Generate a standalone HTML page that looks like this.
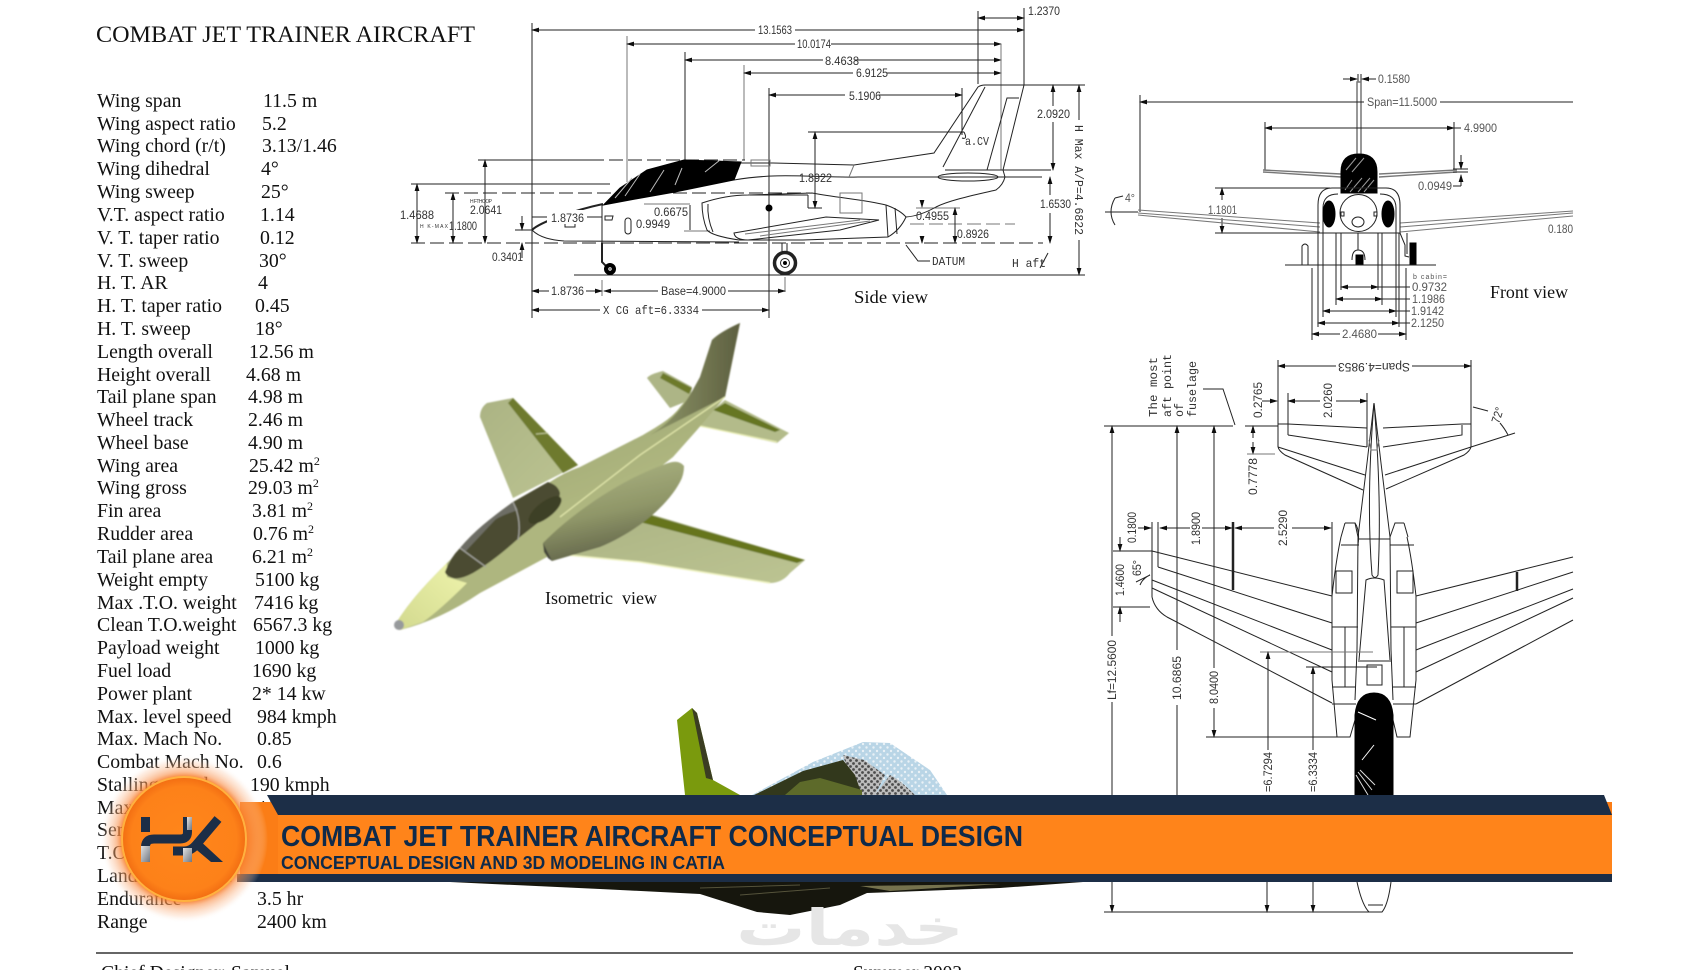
<!DOCTYPE html>
<html><head><meta charset="utf-8"><title>Combat Jet Trainer Aircraft</title>
<style>
html,body{margin:0;padding:0;background:#fff;width:1700px;height:970px;overflow:hidden}
svg{display:block}
.t{font-family:"Liberation Serif",serif;font-size:19.8px;fill:#111;white-space:pre}
.d{font-family:"Liberation Sans",sans-serif;font-size:12px;fill:#333;white-space:pre}
.m{font-family:"Liberation Mono",monospace;font-size:12px;fill:#333;white-space:pre}
.l line,.l path,.l polyline,.l circle,.l ellipse,.l rect{stroke:#222;stroke-width:1;fill:none}
.l .g{stroke:#777}
.l .k{fill:#000;stroke:#000}
.l .w{stroke-width:2}
.l .dash{stroke-dasharray:14 5}
.l .ar{marker-start:url(#a);marker-end:url(#a)}
.l .ae{marker-end:url(#a)}
</style></head><body>
<svg width="1700" height="970" viewBox="0 0 1700 970" xmlns="http://www.w3.org/2000/svg" xml:space="preserve">
<defs>
<marker id="a" markerWidth="8" markerHeight="6" refX="7" refY="3" orient="auto-start-reverse" markerUnits="userSpaceOnUse"><path d="M0 0.6L8 3L0 5.4z" fill="#111"/></marker>
<filter id="b" x="-5%" y="-5%" width="110%" height="110%"><feGaussianBlur stdDeviation="0.35"/></filter>
<filter id="b2" x="-5%" y="-5%" width="110%" height="110%"><feGaussianBlur stdDeviation="0.7"/></filter>
<linearGradient id="wing" x1="0" y1="0" x2="1" y2="1"><stop offset="0" stop-color="#abb383"/><stop offset="1" stop-color="#bcc492"/></linearGradient>
<linearGradient id="fus" x1="0.35" y1="0" x2="0.6" y2="0.55"><stop offset="0" stop-color="#7f865a"/><stop offset="0.5" stop-color="#9fa874"/><stop offset="1" stop-color="#aeb67f"/></linearGradient>
<linearGradient id="nac" x1="0.35" y1="0" x2="0.62" y2="0.9"><stop offset="0" stop-color="#acb482"/><stop offset="0.55" stop-color="#8f9668"/><stop offset="1" stop-color="#62654a"/></linearGradient>
<linearGradient id="finG" x1="0" y1="0" x2="1" y2="0"><stop offset="0" stop-color="#8f9769"/><stop offset="1" stop-color="#5d5f40"/></linearGradient>
<linearGradient id="nose" x1="0" y1="1" x2="1" y2="0"><stop offset="0" stop-color="#d2d98e"/><stop offset="1" stop-color="#eef3ac"/></linearGradient>
<pattern id="dots" width="7" height="7" patternUnits="userSpaceOnUse"><rect width="7" height="7" fill="#b9d5e6"/><circle cx="2" cy="2" r="1.2" fill="#e9f1f6"/><circle cx="5.5" cy="5.5" r="1.2" fill="#e9f1f6"/></pattern>
<pattern id="dith" width="6" height="6" patternUnits="userSpaceOnUse"><rect width="6" height="6" fill="#bdbdbd"/><circle cx="1.5" cy="1.5" r="1.4" fill="#4c4c4c"/><circle cx="4.5" cy="4.5" r="1.4" fill="#4c4c4c"/></pattern>
<radialGradient id="glow"><stop offset="0" stop-color="#f97a14"/><stop offset="0.72" stop-color="#f8741a"/><stop offset="0.8" stop-color="#f9934f" stop-opacity="0.6"/><stop offset="0.92" stop-color="#fbc6a2" stop-opacity="0.3"/><stop offset="1" stop-color="#fff" stop-opacity="0"/></radialGradient>
<radialGradient id="disc"><stop offset="0" stop-color="#ff861b"/><stop offset="0.85" stop-color="#fd8119"/><stop offset="1" stop-color="#f26d12"/></radialGradient>
<linearGradient id="gr" x1="0" y1="0" x2="1" y2="1"><stop offset="0" stop-color="#e2e2e2"/><stop offset="1" stop-color="#6f7782"/></linearGradient>
</defs>

<!-- spec list -->
<g class="t">
<text x="96" y="42" style="font-size:23px" textLength="379" lengthAdjust="spacingAndGlyphs">COMBAT JET TRAINER AIRCRAFT</text>
<text x="97" y="107">Wing span</text><text x="263" y="107">11.5 m</text>
<text x="97" y="130">Wing aspect  ratio</text><text x="262" y="130">5.2</text>
<text x="97" y="152">Wing chord (r/t)</text><text x="262" y="152">3.13/1.46</text>
<text x="97" y="175">Wing dihedral</text><text x="261" y="175">4°</text>
<text x="97" y="198">Wing sweep</text><text x="261" y="198">25°</text>
<text x="97" y="221">V.T.  aspect ratio</text><text x="260" y="221">1.14</text>
<text x="97" y="244">V. T. taper ratio</text><text x="260" y="244">0.12</text>
<text x="97" y="267">V. T. sweep</text><text x="259" y="267">30°</text>
<text x="97" y="289">H. T. AR</text><text x="258" y="289">4</text>
<text x="97" y="312">H. T. taper ratio</text><text x="255" y="312">0.45</text>
<text x="97" y="335">H. T. sweep</text><text x="255" y="335">18°</text>
<text x="97" y="358">Length overall</text><text x="249" y="358">12.56 m</text>
<text x="97" y="381">Height overall</text><text x="246" y="381">4.68 m</text>
<text x="97" y="403">Tail plane span</text><text x="248" y="403">4.98 m</text>
<text x="97" y="426">Wheel track</text><text x="248" y="426">2.46 m</text>
<text x="97" y="449">Wheel base</text><text x="248" y="449">4.90 m</text>
<text x="97" y="472">Wing area</text><text x="249" y="472">25.42 m<tspan font-size="12" dy="-7">2</tspan></text>
<text x="97" y="494">Wing gross</text><text x="248" y="494">29.03 m<tspan font-size="12" dy="-7">2</tspan></text>
<text x="97" y="517">Fin area</text><text x="252" y="517">3.81 m<tspan font-size="12" dy="-7">2</tspan></text>
<text x="97" y="540">Rudder area</text><text x="253" y="540">0.76 m<tspan font-size="12" dy="-7">2</tspan></text>
<text x="97" y="563">Tail plane area</text><text x="252" y="563">6.21 m<tspan font-size="12" dy="-7">2</tspan></text>
<text x="97" y="586">Weight empty</text><text x="255" y="586">5100 kg</text>
<text x="97" y="609">Max .T.O. weight</text><text x="254" y="609">7416 kg</text>
<text x="97" y="631">Clean T.O.weight</text><text x="253" y="631">6567.3 kg</text>
<text x="97" y="654">Payload weight</text><text x="255" y="654">1000 kg</text>
<text x="97" y="677">Fuel load</text><text x="252" y="677">1690 kg</text>
<text x="97" y="700">Power plant</text><text x="252" y="700">2* 14 kw</text>
<text x="97" y="723">Max. level speed</text><text x="257" y="723">984 kmph</text>
<text x="97" y="745">Max. Mach No.</text><text x="257" y="745">0.85</text>
<text x="97" y="768">Combat Mach No.</text><text x="257" y="768">0.6</text>
<text x="97" y="791">Stalling speed</text><text x="250" y="791">190  kmph</text>
<text x="97" y="814">Max. climb rate</text><text x="258" y="814">18 m/s</text>
<text x="97" y="836">Service ceiling</text>
<text x="97" y="859">T.O. distance</text>
<text x="97" y="882">Landing distance</text><text x="257" y="882">700 m</text>
<text x="97" y="905">Endurance</text><text x="257" y="905">3.5 hr</text>
<text x="97" y="928">Range</text><text x="257" y="928">2400 km</text>
</g>
<line x1="96" y1="953" x2="1573" y2="953" stroke="#333" stroke-width="1.6"/>
<text class="t" x="101" y="979" textLength="189" lengthAdjust="spacingAndGlyphs">Chief Designer: Samuel</text>
<text class="t" x="853" y="979" textLength="109" lengthAdjust="spacingAndGlyphs">Summer 2002</text>

<!-- side view -->
<g class="l" filter="url(#b)">
<line x1="532" y1="23" x2="532" y2="318"/>
<line x1="532" y1="30" x2="1024" y2="30" class="ar"/>
<line x1="978" y1="11" x2="978" y2="84"/><line x1="1024" y1="8" x2="1024" y2="85"/>
<line x1="978" y1="18" x2="1024" y2="18" class="ar"/>
<line x1="627" y1="36" x2="627" y2="182" class="g"/><line x1="627" y1="44" x2="1001" y2="44" class="ar"/>
<line x1="685" y1="52" x2="685" y2="160"/><line x1="685" y1="60" x2="1001" y2="60" class="ar"/>
<line x1="744" y1="65" x2="744" y2="160" class="g"/><line x1="744" y1="73" x2="1001" y2="73" class="ar"/>
<line x1="769" y1="88" x2="769" y2="318"/><line x1="769" y1="95" x2="962" y2="95" class="ar"/>
<line x1="962" y1="88" x2="962" y2="135"/><line x1="1001" y1="44" x2="1001" y2="170" class="g"/>
<line x1="808" y1="132" x2="964" y2="132"/>
<line x1="815" y1="132" x2="815" y2="208" class="ar"/>
<line x1="1006" y1="85" x2="1085" y2="85"/>
<line x1="1053" y1="85" x2="1053" y2="170" class="ar"/>
<line x1="1079" y1="85" x2="1079" y2="120" style="marker-start:url(#a)"/><line x1="1079" y1="240" x2="1079" y2="275" class="ae"/>
<line x1="1050" y1="177" x2="1050" y2="243" class="ar"/>
<line x1="478" y1="160" x2="590" y2="160"/><line x1="590" y1="160" x2="745" y2="160" class="dash"/>
<line x1="411" y1="184" x2="610" y2="184"/>
<line x1="445" y1="193" x2="810" y2="193" class="dash"/>
<line x1="411" y1="243" x2="1043" y2="243" class="dash"/>
<line x1="574" y1="275" x2="1085" y2="275"/>
<line x1="417" y1="184" x2="417" y2="243" class="ar"/>
<line x1="453" y1="193" x2="453" y2="243" class="ar"/>
<line x1="485" y1="160" x2="485" y2="243" class="ar"/>
<line x1="522" y1="216" x2="522" y2="230" class="ae"/><line x1="515" y1="230" x2="532" y2="230"/>
<line x1="522" y1="258" x2="522" y2="243" class="ae"/>
<line x1="532" y1="217" x2="548" y2="217"/><line x1="586" y1="217" x2="602" y2="217"/>
<line x1="602" y1="205" x2="602" y2="243"/>
<line x1="690" y1="205" x2="690" y2="230"/><line x1="644" y1="204" x2="690" y2="204" class="g"/><line x1="684" y1="231" x2="710" y2="231" class="g"/>
<line x1="916" y1="208" x2="960" y2="208" class="g"/><line x1="922" y1="200" x2="922" y2="207" class="ae"/><line x1="922" y1="238" x2="922" y2="243" class="ae"/>
<line x1="910" y1="224" x2="1015" y2="224" class="dash g"/>
<line x1="955" y1="208" x2="955" y2="243" class="ar"/>
<!-- fuselage -->
<path d="M532 230C540 222 575 210 603 204" class="w"/>
<path d="M741 163L773 163L854 165L934 153L978 87Q981 85 985 85L1024 85L1003 170L1005 177Q1003 185 996 190C975 195 950 200 936 207Q920 216 906 217"/>
<path d="M734 180C780 172 815 178 858 177L1042 177"/>
<path d="M945 170L1051 170"/>
<path d="M854 165L849 177" class="g"/>
<path d="M532 230C540 238 552 240 564 241L739 242"/>
<path class="k" d="M603.5 205L620 188L647 170L684 160L741 162L734 180L675 192L630 200Z"/>
<path d="M615 198L632 178M625 196L640 174M650 192L664 170M675 185L682 168M705 172L720 160" style="stroke:#bbb"/>
<path d="M702 203C720 197 735 195 748 195L812 193C840 198 865 200 886 205Q900 210 906 217Q900 230 888 237L803 240L739 240Q712 236 707 230C703 220 702 212 702 203Z"/>
<path d="M708 204Q707 218 713 232"/><path d="M886 205L888 237"/><path d="M895 208L897 234"/>
<path d="M734 233L826 217L879 220L840 230L748 240Q735 240 734 233Z"/><path d="M745 234L860 220M760 236L870 221" class="g"/>
<rect x="840" y="193" width="22" height="20" class="g"/><line x1="750" y1="195" x2="808" y2="195"/><line x1="808" y1="195" x2="808" y2="208"/><line x1="808" y1="208" x2="822" y2="208"/>
<path d="M985 87L943 167"/><path d="M1019 98L1007 98L987 170L1003 170"/>
<ellipse cx="968" cy="177" rx="30" ry="4"/>
<rect x="565" y="221" width="10" height="6"/><rect x="625" y="218" width="6" height="16" rx="3"/><path d="M605 216h8l-1 4h-7z"/>
<rect x="751" y="160" width="19" height="6" class="g"/>
<circle cx="769" cy="208" r="3" class="k"/>
<!-- gear -->
<path d="M602 243V262L608 268" class="w"/><circle cx="610" cy="269" r="5.5" class="k"/><circle cx="610" cy="269" r="1.2" style="stroke:#fff"/>
<path d="M782 243V252M787 243V252" /><circle cx="785" cy="263" r="10.5" style="stroke-width:3.5"/><circle cx="785" cy="263" r="4.5"/>
<circle cx="785" cy="263" r="1.5" class="k"/>
<line x1="785" y1="277" x2="785" y2="292" class="g"/>
<line x1="602" y1="280" x2="602" y2="296" class="g"/>
<line x1="532" y1="291" x2="549" y2="291" style="marker-start:url(#a)"/><line x1="586" y1="291" x2="602" y2="291" class="ae"/>
<line x1="604" y1="291" x2="658" y2="291" style="marker-start:url(#a)"/><line x1="728" y1="291" x2="785" y2="291" class="ae"/>
<line x1="532" y1="310" x2="600" y2="310" style="marker-start:url(#a)"/><line x1="702" y1="310" x2="769" y2="310" class="ae"/>
<path d="M906 245L918 261L930 261"/><path d="M1048 253L1040 268"/>
</g>
<g filter="url(#b)">
<rect x="755" y="24" width="40" height="12" fill="#fff"/><rect x="795" y="38" width="36" height="12" fill="#fff"/><rect x="823" y="54" width="32" height="12" fill="#fff"/><rect x="853" y="67" width="34" height="12" fill="#fff"/><rect x="845" y="88" width="34" height="14" fill="#fff"/>
<rect x="1037" y="106" width="34" height="16" fill="#fff"/><rect x="1036" y="195" width="36" height="18" fill="#fff"/><rect x="547" y="210" width="40" height="14" fill="#fff"/>
<g class="d">
<text x="758" y="34" textLength="34" lengthAdjust="spacingAndGlyphs">13.1563</text>
<text x="797" y="48" textLength="34" lengthAdjust="spacingAndGlyphs">10.0174</text>
<text x="825" y="65" textLength="34" lengthAdjust="spacingAndGlyphs">8.4638</text>
<text x="856" y="77" textLength="32" lengthAdjust="spacingAndGlyphs">6.9125</text>
<text x="849" y="100" textLength="32" lengthAdjust="spacingAndGlyphs">5.1906</text>
<text x="1028" y="15" textLength="32" lengthAdjust="spacingAndGlyphs">1.2370</text>
<text x="1037" y="118" textLength="33" lengthAdjust="spacingAndGlyphs">2.0920</text>
<text x="1040" y="208" textLength="31" lengthAdjust="spacingAndGlyphs">1.6530</text>
<text x="400" y="219" textLength="34" lengthAdjust="spacingAndGlyphs">1.4688</text>
<text x="470" y="214" textLength="32" lengthAdjust="spacingAndGlyphs">2.0641</text>
<text x="470" y="203" style="font-size:5px" textLength="22">H FTHOOP</text>
<text x="420" y="228" style="font-size:5px" textLength="28">H K-MAX</text>
<text x="449" y="230" textLength="28" lengthAdjust="spacingAndGlyphs">1.1800</text>
<text x="492" y="261" textLength="31" lengthAdjust="spacingAndGlyphs">0.3401</text>
<text x="551" y="222" textLength="33" lengthAdjust="spacingAndGlyphs">1.8736</text>
<text x="654" y="216" textLength="34" lengthAdjust="spacingAndGlyphs">0.6675</text>
<text x="636" y="228" textLength="34" lengthAdjust="spacingAndGlyphs">0.9949</text>
<text x="799" y="182" textLength="33" lengthAdjust="spacingAndGlyphs">1.8922</text>
<text x="916" y="220" textLength="33" lengthAdjust="spacingAndGlyphs">0.4955</text>
<text x="957" y="238" textLength="32" lengthAdjust="spacingAndGlyphs">0.8926</text>
<text x="551" y="295" textLength="33" lengthAdjust="spacingAndGlyphs">1.8736</text>
<text x="661" y="295" textLength="65" lengthAdjust="spacingAndGlyphs">Base=4.9000</text>
</g>
<g class="m">
<text x="603" y="314" textLength="96" lengthAdjust="spacingAndGlyphs">X CG aft=6.3334</text>
<text x="932" y="265" textLength="33" lengthAdjust="spacingAndGlyphs">DATUM</text>
<text x="1012" y="267" textLength="34" lengthAdjust="spacingAndGlyphs">H aft</text>
<text x="965" y="145" textLength="24" lengthAdjust="spacingAndGlyphs">a.CV</text>
<text transform="translate(1075 125) rotate(90)" textLength="110" lengthAdjust="spacingAndGlyphs">H Max A/P=4.6822</text>
</g>
<text class="t" x="854" y="303" style="font-size:18px" textLength="74" lengthAdjust="spacingAndGlyphs">Side view</text>
</g>
<path d="M964 132Q968 140 962 138" stroke="#222" fill="none"/>

<!-- front view -->
<g class="l" filter="url(#b)">
<line x1="1343" y1="79" x2="1357" y2="79" class="ae"/><line x1="1376" y1="79" x2="1362" y2="79" class="ae"/>
<line x1="1358" y1="74" x2="1358" y2="82"/><line x1="1361" y1="74" x2="1361" y2="82"/>
<path d="M1357 154V82H1361V154" class="g" style="stroke-width:1.5"/>
<line x1="1140" y1="95" x2="1140" y2="212"/><line x1="1140" y1="102" x2="1364" y2="102" style="marker-start:url(#a)"/><line x1="1440" y1="102" x2="1573" y2="102"/>
<line x1="1265" y1="122" x2="1265" y2="170"/><line x1="1454" y1="122" x2="1454" y2="170"/>
<line x1="1265" y1="128" x2="1454" y2="128" class="ar"/><line x1="1454" y1="128" x2="1461" y2="128"/>
<path d="M1263 170L1341 174M1263 172L1341 177M1379 174L1457 170M1379 177L1457 172" class="g" style="stroke-width:1.4"/>
<path class="k" d="M1341 193V172Q1341 154 1359 154Q1377 154 1377 172V193Z"/>
<path d="M1346 170L1356 158M1352 172L1364 158M1345 190L1352 180M1350 192L1362 178M1358 192L1370 178M1364 192L1374 180" style="stroke:#999"/>
<line x1="1461" y1="155" x2="1461" y2="169" class="ae"/><line x1="1461" y1="186" x2="1461" y2="175" class="ae"/><line x1="1453" y1="169" x2="1468" y2="169"/><line x1="1453" y1="172" x2="1468" y2="172"/><line x1="1453" y1="186" x2="1461" y2="186"/>
<line x1="1215" y1="188" x2="1330" y2="188"/><line x1="1215" y1="233" x2="1320" y2="233"/>
<line x1="1222" y1="188" x2="1222" y2="200" style="marker-start:url(#a)"/><line x1="1222" y1="218" x2="1222" y2="233" class="ae"/>
<path d="M1138 210L1320 223M1138 215L1320 232M1400 223L1573 211M1400 232L1573 216M1138 213L1320 227M1400 227L1573 213" class="g"/>
<line x1="1105" y1="212" x2="1138" y2="212"/>
<path d="M1115 198Q1107 212 1115 225"/><line x1="1115" y1="198" x2="1123" y2="196"/>
<path d="M1318 233V205Q1318 188 1332 188H1386Q1400 188 1400 205V233"/>
<path d="M1323 233V208Q1323 194 1338 194M1396 233V208Q1396 194 1380 194"/>
<ellipse class="k" cx="1329" cy="214" rx="6" ry="13"/><ellipse class="k" cx="1388" cy="214" rx="6" ry="13"/>
<circle cx="1358.500" cy="213" r="18.500"/><ellipse cx="1358" cy="222" rx="6" ry="5"/>
<rect x="1341" y="212" width="3" height="4"/><rect x="1374" y="212" width="3" height="4"/>
<path d="M1320 233H1400"/>
<path d="M1358 233V250M1352 260Q1352 250 1358 250Q1365 250 1365 260"/><rect x="1356" y="255" width="7" height="10" class="k"/>
<rect x="1410" y="243" width="6" height="22" class="k"/><path d="M1400 233L1405 245V256L1409 257M1407 233V254"/>
<path d="M1302 265V246Q1305 242 1308 246V265"/>
<line x1="1285" y1="265" x2="1436" y2="265"/>
<line x1="1341" y1="233" x2="1341" y2="290"/><line x1="1378" y1="233" x2="1378" y2="290"/>
<line x1="1336" y1="233" x2="1336" y2="305"/><line x1="1382" y1="233" x2="1382" y2="305"/>
<line x1="1323" y1="233" x2="1323" y2="317"/><line x1="1396" y1="233" x2="1396" y2="317"/>
<line x1="1318" y1="233" x2="1318" y2="327"/><line x1="1399" y1="233" x2="1399" y2="327"/>
<line x1="1312" y1="268" x2="1312" y2="340"/><line x1="1406" y1="268" x2="1406" y2="340"/>
<line x1="1341" y1="287" x2="1378" y2="287" class="ar"/><line x1="1378" y1="287" x2="1410" y2="287"/>
<line x1="1336" y1="299" x2="1382" y2="299" class="ar"/><line x1="1382" y1="299" x2="1410" y2="299"/>
<line x1="1323" y1="311" x2="1396" y2="311" class="ar"/><line x1="1396" y1="311" x2="1410" y2="311"/>
<line x1="1318" y1="323" x2="1399" y2="323" class="ar"/><line x1="1399" y1="323" x2="1410" y2="323"/>
<line x1="1312" y1="334" x2="1340" y2="334" style="marker-start:url(#a)"/><line x1="1378" y1="334" x2="1406" y2="334" class="ae"/>
</g>
<g class="d" filter="url(#b)" style="fill:#555">
<text x="1378" y="83" textLength="32" lengthAdjust="spacingAndGlyphs">0.1580</text>
<text x="1367" y="106" textLength="70" lengthAdjust="spacingAndGlyphs">Span=11.5000</text>
<text x="1464" y="132" textLength="33" lengthAdjust="spacingAndGlyphs">4.9900</text>
<text x="1418" y="190" textLength="34" lengthAdjust="spacingAndGlyphs">0.0949</text>
<text x="1208" y="214" textLength="29" lengthAdjust="spacingAndGlyphs">1.1801</text>
<text x="1125" y="202" textLength="10" lengthAdjust="spacingAndGlyphs">4°</text>
<text x="1548" y="233" textLength="25" lengthAdjust="spacingAndGlyphs">0.180</text>
<text x="1413" y="279" style="font-size:7px" textLength="34">b cabin=</text>
<text x="1412" y="291" textLength="35" lengthAdjust="spacingAndGlyphs">0.9732</text>
<text x="1412" y="303" textLength="33" lengthAdjust="spacingAndGlyphs">1.1986</text>
<text x="1411" y="315" textLength="33" lengthAdjust="spacingAndGlyphs">1.9142</text>
<text x="1411" y="327" textLength="33" lengthAdjust="spacingAndGlyphs">2.1250</text>
<text x="1342" y="338" textLength="35" lengthAdjust="spacingAndGlyphs">2.4680</text>
</g>
<text class="t" x="1490" y="298" style="font-size:18px" textLength="78" lengthAdjust="spacingAndGlyphs">Front view</text>

<!-- plan view -->
<g class="l" filter="url(#b)">
<line x1="1278" y1="366" x2="1336" y2="366" style="marker-start:url(#a)"/><line x1="1412" y1="366" x2="1471" y2="366" class="ae"/>
<line x1="1278" y1="360" x2="1278" y2="447"/><line x1="1471" y1="360" x2="1471" y2="447"/>
<line x1="1262" y1="401" x2="1277" y2="401" class="ae"/>
<line x1="1288" y1="393" x2="1288" y2="435"/><line x1="1367" y1="393" x2="1367" y2="447"/>
<line x1="1288" y1="401" x2="1320" y2="401" style="marker-start:url(#a)"/><line x1="1336" y1="401" x2="1367" y2="401" class="ae"/>
<line x1="1104" y1="426" x2="1233" y2="426"/><line x1="1245" y1="426" x2="1278" y2="426"/>
<path d="M1278 424H1288L1367 428M1471 424H1462L1383 428"/>
<path d="M1288 435L1367 447M1462 425V435L1383 447"/>
<path d="M1278 447Q1279 451 1285 455L1363 490M1278 447L1365 475M1471 447Q1470 451 1464 455L1386 489M1471 447L1385 475"/>
<path d="M1203 389H1223L1235 425"/>
<line x1="1253" y1="426" x2="1253" y2="438" style="marker-start:url(#a)"/><line x1="1253" y1="442" x2="1253" y2="454" class="ae"/><line x1="1247" y1="454" x2="1275" y2="454" class="g"/>
<path d="M1471 447L1515 433M1473 407L1488 411M1500 423Q1505 429 1508 435"/>
<path d="M1374 403L1367 463L1358 537L1357 650L1355 700M1374 403L1381 463L1390 537L1391 650L1393 700"/>
<path d="M1374 403Q1366 500 1372 575Q1375 580 1378 575Q1382 500 1374 403"/>
<path d="M1369 440L1371 450H1377L1379 440" class="g"/>
<path d="M1345 523H1355L1358 537M1404 523H1395L1390 537"/>
<path d="M1355 523Q1360 530 1358 545M1341 537Q1336 560 1332 596V680L1337 737H1350L1355 720M1407 537Q1412 560 1416 596V680L1410 737H1397L1393 720"/>
<path d="M1345 523L1341 537M1404 523L1408 537M1341 545H1359M1390 545H1414M1358 539H1390M1332 627H1358M1391 627H1416M1332 687H1356M1393 687H1416M1332 704H1356M1393 704H1416"/>
<rect x="1336" y="571" width="16" height="22"/><rect x="1397" y="571" width="16" height="22"/><rect x="1367" y="665" width="15" height="20"/>
<line x1="1345" y1="627" x2="1345" y2="687"/><line x1="1404" y1="627" x2="1404" y2="687"/>
<path d="M1359 660L1366 580Q1374 576 1384 580L1390 660M1358 661H1391"/>
<line x1="1152" y1="522" x2="1152" y2="597"/><line x1="1158" y1="522" x2="1158" y2="567"/>
<line x1="1233" y1="522" x2="1233" y2="590" style="stroke-width:2.5"/><line x1="1332" y1="522" x2="1332" y2="596"/>
<path d="M1152 551L1332 596M1158 567L1332 623M1152 580L1332 650M1152 588L1332 672M1152 597Q1155 610 1167 617L1332 703"/>
<path d="M1416 596L1573 557M1416 623L1573 572M1416 650L1573 589M1416 672L1573 598M1416 704L1573 620"/>
<line x1="1517" y1="572" x2="1517" y2="591" style="stroke-width:2.5"/>
<line x1="1160" y1="528" x2="1190" y2="528" style="marker-start:url(#a)"/><line x1="1202" y1="528" x2="1232" y2="528" class="ae"/>
<line x1="1235" y1="528" x2="1274" y2="528" style="marker-start:url(#a)"/><line x1="1292" y1="528" x2="1331" y2="528" class="ae"/>
<line x1="1138" y1="528" x2="1151" y2="528" class="ae"/>
<line x1="1113" y1="551" x2="1152" y2="551"/><line x1="1113" y1="607" x2="1150" y2="607"/>
<line x1="1120" y1="537" x2="1120" y2="551" class="ae"/><line x1="1120" y1="622" x2="1120" y2="607" class="ae"/>
<path d="M1136 582L1150 575M1140 585Q1143 578 1150 575"/>
<line x1="1112" y1="426" x2="1112" y2="636" style="marker-start:url(#a)"/><line x1="1112" y1="702" x2="1112" y2="800"/>
<line x1="1177" y1="426" x2="1177" y2="650" style="marker-start:url(#a)"/><line x1="1177" y1="705" x2="1177" y2="800"/>
<line x1="1214" y1="426" x2="1214" y2="668" style="marker-start:url(#a)"/><line x1="1214" y1="708" x2="1214" y2="737" class="ae"/>
<line x1="1206" y1="737" x2="1350" y2="737"/>
<line x1="1260" y1="652" x2="1373" y2="652" class="g"/><line x1="1306" y1="667" x2="1377" y2="667"/>
<line x1="1268" y1="652" x2="1268" y2="750" style="marker-start:url(#a)"/><line x1="1313" y1="667" x2="1313" y2="750" style="marker-start:url(#a)"/>
<path class="k" d="M1355 795V715Q1357 693 1374 693Q1391 693 1393 715V795Z"/>
<path d="M1358 712L1376 720M1362 760L1374 745" style="stroke:#fff"/>
<path d="M1360 770L1375 785M1358 772L1372 790M1356 775L1368 795" style="stroke:#ddd"/>
<line x1="1112" y1="882" x2="1112" y2="912" class="ae"/><line x1="1267" y1="882" x2="1267" y2="912" class="ae"/><line x1="1313" y1="882" x2="1313" y2="912" class="ae"/>
<line x1="1104" y1="912" x2="1373" y2="912"/>
<path d="M1357 882Q1362 905 1369 912H1382Q1388 905 1391 882M1368 905H1383"/>
</g>
<g class="d" filter="url(#b)">
<text transform="translate(1116 700) rotate(-90)" textLength="60" lengthAdjust="spacingAndGlyphs">Lf=12.5600</text>
<text transform="translate(1181 700) rotate(-90)" textLength="44" lengthAdjust="spacingAndGlyphs">10.6865</text>
<text transform="translate(1218 704) rotate(-90)" textLength="33" lengthAdjust="spacingAndGlyphs">8.0400</text>
<text transform="translate(1272 792) rotate(-90)" textLength="40" lengthAdjust="spacingAndGlyphs">=6.7294</text>
<text transform="translate(1317 792) rotate(-90)" textLength="40" lengthAdjust="spacingAndGlyphs">=6.3334</text>
<text transform="translate(1262 418) rotate(-90)" textLength="36" lengthAdjust="spacingAndGlyphs">0.2765</text>
<text transform="translate(1332 418) rotate(-90)" textLength="35" lengthAdjust="spacingAndGlyphs">2.0260</text>
<text transform="translate(1257 495) rotate(-90)" textLength="37" lengthAdjust="spacingAndGlyphs">0.7778</text>
<text transform="translate(1136 543) rotate(-90)" textLength="31" lengthAdjust="spacingAndGlyphs">0.1800</text>
<text transform="translate(1200 545) rotate(-90)" textLength="33" lengthAdjust="spacingAndGlyphs">1.8900</text>
<text transform="translate(1287 546) rotate(-90)" textLength="36" lengthAdjust="spacingAndGlyphs">2.5290</text>
<text transform="translate(1124 596) rotate(-90)" textLength="32" lengthAdjust="spacingAndGlyphs">1.4600</text>
<text transform="translate(1141 576) rotate(-90)" textLength="16" lengthAdjust="spacingAndGlyphs">65°</text>
<text transform="translate(1499 424) rotate(-72)" textLength="16" lengthAdjust="spacingAndGlyphs">72°</text>
<text transform="translate(1410 363) rotate(180)" textLength="72" lengthAdjust="spacingAndGlyphs">Span=4.9853</text>
</g>
<g class="m" filter="url(#b)">
<text transform="translate(1157 417) rotate(-90)" textLength="60" lengthAdjust="spacingAndGlyphs">The most</text>
<text transform="translate(1171 417) rotate(-90)" textLength="63" lengthAdjust="spacingAndGlyphs">aft point</text>
<text transform="translate(1183 417) rotate(-90)" textLength="14" lengthAdjust="spacingAndGlyphs">of</text>
<text transform="translate(1196 417) rotate(-90)" textLength="56" lengthAdjust="spacingAndGlyphs">fuselage</text>
</g>

<!-- isometric jet -->
<g filter="url(#b2)">
<path d="M647 378Q650 374 663 371L692 387L690 400L670 408Z" fill="#adb586"/>
<path d="M663 373L692 388L689 394L660 378Z" fill="#6d7a2c"/>
<path d="M725 400L789 433L777 443L695 425Z" fill="#b3bb8a"/>
<path d="M725 403L780 430L775 432L713 410Z" fill="#667624"/>
<path d="M695 425L777 442" stroke="#e9eeb4" stroke-width="1.2" fill="none"/>
<path d="M480 417Q480 408 487 403L513 398L578 465L513 498Z" fill="url(#wing)"/>
<path d="M508 403L513 398L578 465L563 473Z" fill="#6e7a2e"/>
<path d="M536 434L548 433" stroke="#c9cfa2" stroke-width="1"/>
<path d="M567 555L643 512L805 560L790 573Q782 583 770 583L640 562Z" fill="url(#wing)"/>
<path d="M643 513L805 560L797 563L632 520Z" fill="#66751f"/>
<path d="M567 555L640 562L770 583" stroke="#eef2c0" stroke-width="1.5" fill="none"/>
<path d="M395 625C410 600 430 580 447 563L513 502L550 482Q565 472 580 467L643 435C660 425 672 418 680 407Q695 390 700 377L712 340Q720 332 740 323L725 397L697 430L673 457L547 557L480 593Q440 620 400 630Z" fill="url(#fus)"/>
<path d="M712 340Q720 332 740 323L725 397L650 435Q675 420 690 395L700 377Z" fill="url(#finG)"/>
<path d="M725 397L640 455L560 517" stroke="#e4e9ad" stroke-width="1.2" fill="none"/>
<path d="M395 625C410 600 430 580 447 563L447 577L467 583Q440 610 423 622L400 630Z" fill="url(#nose)"/>
<path d="M445 572Q450 558 460 548C475 530 495 515 513 502L548 482Q558 485 560 493L558 507L520 537Q495 560 473 573Q460 580 453 578Q446 576 445 572Z" fill="#4b4c30"/>
<path d="M460 548C475 530 495 515 513 502L518 510Q500 516 495 520L465 552Z" fill="#6d6d65"/>
<path d="M460 548L486 567M513 502Q522 520 518 540" stroke="#a6a6a0" stroke-width="1.2" fill="none"/>
<ellipse cx="545" cy="510" rx="20" ry="8" fill="#3e3f25" transform="rotate(-38 545 510)"/>
<path d="M543 543C570 515 620 480 663 465Q678 458 684 466Q684 475 680 482C665 510 630 535 600 547L552 561L545 553Z" fill="url(#nac)"/>
<path d="M543 543L552 561L548 558L544 552Z" fill="#44463a"/>
<circle cx="399" cy="625" r="5" fill="#979a9c"/>
</g>
<text class="t" x="545" y="604" style="font-size:18px" textLength="112" lengthAdjust="spacingAndGlyphs">Isometric  view</text>

<!-- lower jet -->
<g filter="url(#b)">
<path d="M677 720L692 708L697 713L713 780L740 795H685Z" fill="#7a9a10"/>
<path d="M692 708L697 713L713 780L706 778Z" fill="#3a3e22"/>
<path d="M752 795L813 762L863 742L890 743L930 770L947 795Z" fill="url(#dots)"/>
<path d="M843 755L864 760L885 775L875 795H855Z" fill="url(#dith)"/>
<path d="M890 775Q900 780 915 795H875Z" fill="url(#dith)"/>
<path d="M754 795L803 771L843 760L855 775L862 795Z" fill="#33381b"/>
<path d="M785 795L800 782L820 778L862 790V795Z" fill="#5d6b2c"/>
<path d="M450 882H1083L1000 888L867 893L840 905L790 915L757 912L700 894L600 889Z" fill="#15150e"/>
<path d="M860 886L1000 884L890 891Z" fill="#75724e"/>
<path d="M700 888L800 885M740 895L830 888" stroke="#55533a" fill="none"/>
</g>
<!-- watermark -->
<text transform="translate(850 945) scale(1.38 1)" text-anchor="middle" direction="rtl" font-family="'DejaVu Sans',sans-serif" font-weight="bold" font-size="50" fill="#e6e6e6">خدمات</text>

<!-- banner -->
<path d="M240 802H1612V874H240Z" fill="#fb7d16"/>
<path d="M278 815H1612V874H278Z" fill="#ff841a"/>
<path d="M267 795H1604L1612 815H278Z" fill="#1c2e47"/>
<path d="M237 874H1612V882H237Z" fill="#1c2e47"/>
<text x="281" y="846" font-family="'Liberation Sans',sans-serif" font-weight="bold" font-size="29" fill="#0f2a4a" textLength="742" lengthAdjust="spacingAndGlyphs">COMBAT JET TRAINER AIRCRAFT CONCEPTUAL DESIGN</text>
<text x="281" y="869" font-family="'Liberation Sans',sans-serif" font-weight="bold" font-size="18.500" fill="#0f2a4a" textLength="444" lengthAdjust="spacingAndGlyphs">CONCEPTUAL DESIGN AND 3D MODELING IN CATIA</text>

<!-- badge -->
<circle cx="184" cy="839" r="84" fill="url(#glow)"/>
<circle cx="184" cy="839" r="62" fill="url(#disc)" stroke="#ffb13f" stroke-width="2"/>
<g fill="none" stroke="#1c2e47" stroke-width="9">
<path d="M145.500 817V832"/>
<path d="M145.500 862V847Q145.500 839 154 839H180Q187.500 839 187.500 832V817"/>
<path d="M187.500 862V850"/>
<path d="M173 851H184Q191 851 196 845L218 819"/>
</g>
<path d="M197 838L223 862H211L192 846Z" fill="#1c2e47"/>
<path d="M141 846H150V862H141Z" fill="url(#gr)"/>
<path d="M183 817H187.500V830H183Z" fill="#1c2e47"/>
<path d="M187 817H192V830H187Z" fill="url(#gr)"/>
<path d="M183 848H192V862H183Z" fill="url(#gr)"/>
</svg>
</body></html>
